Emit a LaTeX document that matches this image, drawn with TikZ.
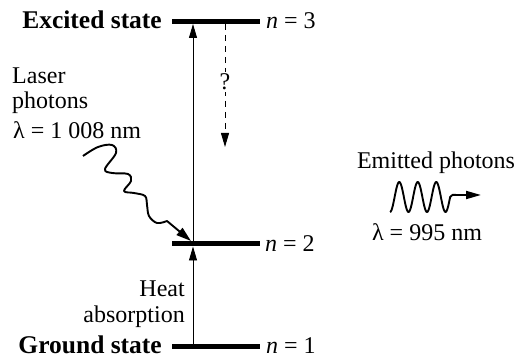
\documentclass[tikz,border=0pt]{standalone}
\usepackage{fontspec}
\setmainfont{Liberation Serif}
\usetikzlibrary{arrows.meta}
\begin{document}
\begin{tikzpicture}[x=1pt,y=-1pt,
  lbl/.style={inner sep=0pt, font=\fontsize{24}{28}\selectfont},
  blbl/.style={inner sep=0pt, font=\fontsize{25.5}{30}\selectfont\bfseries},
  bar/.style={fill=black, minimum width=88pt, minimum height=5pt, inner sep=0pt, outer sep=0pt},
  thinarrow/.style={line width=0.9pt, -{Triangle[length=14pt,width=8pt]}},
  dasharrow/.style={line width=0.9pt, dash pattern=on 6pt off 5pt, -{Triangle[length=14pt,width=8pt]}},
  wavy/.style={line width=1.9pt, line join=round},
]
\useasboundingbox (0,0) rectangle (517,358);

% energy levels
\node[bar] (n3) at (216,21.5) {};
\node[bar] (n2) at (216,244) {};
\node[bar] (n1) at (216,346.5) {};

% level labels
\node[blbl, anchor=base east] (ex) at (162,29) {Excited state};
\node[blbl, anchor=base east] (gs) at (162,353) {Ground state};
\node[lbl, anchor=base west] (l3) at (266,29) {\textit{n} = 3};
\node[lbl, anchor=base west] (l2) at (265,252) {\textit{n} = 2};
\node[lbl, anchor=base west] (l1) at (266,353) {\textit{n} = 1};

% transitions
\draw[thinarrow] ([xshift=21pt]n2.north west) -- ([xshift=21pt]n3.south west);
\draw[thinarrow] ([xshift=21pt]n1.north west) -- ([xshift=21pt]n2.south west);
\coordinate (qtip) at (225,147);
\draw[dasharrow] ([xshift=53pt]n3.south west) -- (qtip);
\node[lbl, anchor=base, fill=white, inner sep=2pt] (q) at (225,90) {?};

% heat label
\node[lbl, anchor=base east] (heat) at (185,297) {Heat};
\node[lbl, anchor=base east] (abs) at (185,322) {absorption};

% laser photons
\node[lbl, anchor=base west] (laser) at (12,84) {Laser};
\node[lbl, anchor=base west] (phot) at (12,109) {photons};
\node[lbl, anchor=base west] (lam1) at (13,139) {λ = 1 008 nm};
\coordinate (ltip) at (191,241);
\draw[wavy, -{Triangle[length=15pt,width=9pt]}] plot[smooth, tension=0.6] coordinates {(83,156) (98,147) (112,145) (116,153) (105,169) (112,173) (128,174) (131,181) (124,191) (134,193) (145,196) (147,205) (149,216) (157,223) (167,221)} -- (ltip);

% emitted photons
\node[lbl, anchor=base] (em) at (436,169) {Emitted photons};
\node[lbl, anchor=base] (lam2) at (427,241) {λ = 995 nm};
\coordinate (etip) at (481,195);
\draw[wavy, -{Triangle[length=15pt,width=8pt]}] plot[domain=0:3.25, samples=90] ({390+18.5*\x},{197+15*cos(360*\x)}) .. controls (451.5,194) and (453,195) .. (457,195) -- (etip);
\end{tikzpicture}
\end{document}
